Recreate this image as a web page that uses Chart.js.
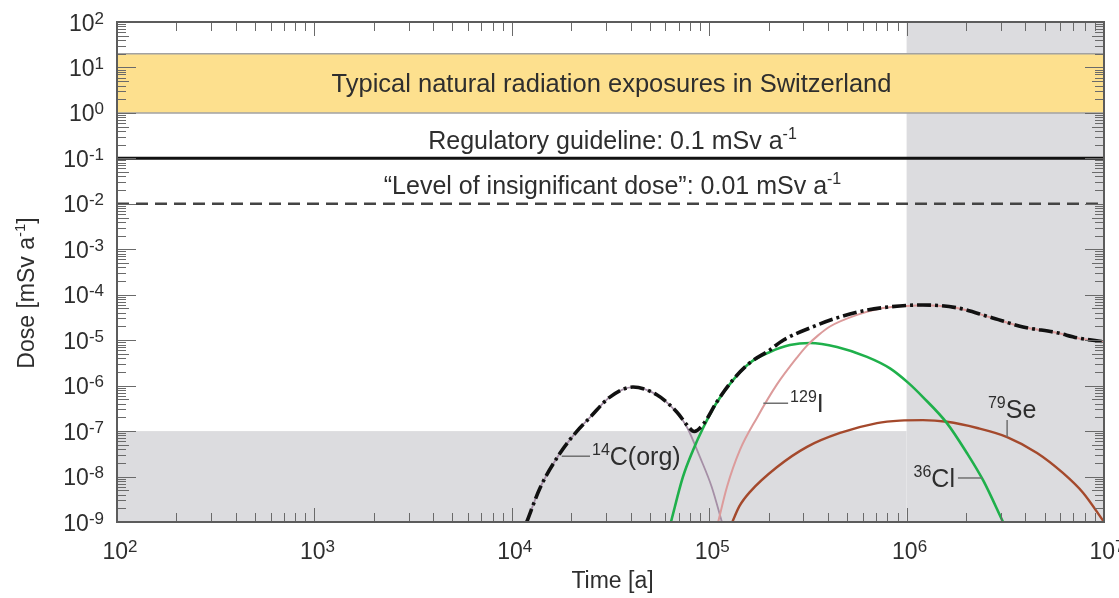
<!DOCTYPE html>
<html>
<head>
<meta charset="utf-8">
<script src="https://cdn.jsdelivr.net/npm/chart.js@4/dist/chart.umd.min.js"></script>
<style>html,body{margin:0;padding:0;background:#fff;}</style>
</head>
<body>
<canvas id="c" width="1119" height="598"></canvas>
<script>
// ---------- data ----------
const xTickExponents = [2, 3, 4, 5, 6, 7];
const yTickExponents = [2, 1, 0, -1, -2, -3, -4, -5, -6, -7, -8, -9];

const c14Time = [1.19e4, 1.39e4, 1.75e4, 2.14e4, 2.49e4, 3.14e4, 4.11e4, 5.45e4, 6.87e4, 7.73e4, 8.97e4, 1.03e5, 1.16e5];
const c14Dose = [1e-9, 5.6e-9, 3.2e-8, 1.0e-7, 2.0e-7, 5.6e-7, 9.3e-7, 6.2e-7, 2.5e-7, 1.2e-7, 2.7e-8, 5.9e-9, 1e-9];

const cl36Time = [6.4e4, 7.36e4, 8.28e4, 9.31e4, 1.09e5, 1.32e5, 1.61e5, 2.03e5, 2.56e5, 3.24e5, 4.44e5, 6.3e5, 8.24e5, 1.02e6, 1.21e6, 1.6e6, 2.02e6, 2.44e6, 3.08e6];
const cl36Dose = [1e-9, 9.8e-9, 3.8e-8, 1.17e-7, 4.2e-7, 1.32e-6, 3.2e-6, 5.5e-6, 7.8e-6, 8.7e-6, 7.1e-6, 4.3e-6, 2.4e-6, 1.15e-6, 5.6e-7, 1.5e-7, 3.3e-8, 8.3e-9, 1e-9];

const i129Time = [1.11e5, 1.23e5, 1.43e5, 1.75e5, 2.2e5, 2.79e5, 3.13e5, 3.55e5, 4.09e5, 5.61e5, 7.59e5, 1.04e6, 1.21e6, 1.8e6, 2.64e6, 3.89e6, 5.78e6, 7.3e6, 1e7];
const i129Dose = [1e-9, 5.9e-9, 3.8e-8, 2.0e-7, 1.05e-6, 4.2e-6, 7.6e-6, 1.26e-5, 2.0e-5, 3.6e-5, 5.1e-5, 5.75e-5, 5.9e-5, 5.1e-5, 3.2e-5, 1.95e-5, 1.45e-5, 1.12e-5, 9.1e-6];

const se79Time = [1.31e5, 1.42e5, 1.61e5, 2.2e5, 3.13e5, 4.6e5, 7.08e5, 9.25e5, 1.21e6, 1.6e6, 2.28e6, 3.23e6, 4.58e6, 6.19e6, 7.83e6, 1e7];
const se79Dose = [1e-9, 2.2e-9, 4.6e-9, 1.6e-8, 4.5e-8, 9.1e-8, 1.5e-7, 1.7e-7, 1.74e-7, 1.6e-7, 1.17e-7, 7.4e-8, 3.3e-8, 1.2e-8, 4.4e-9, 1e-9];

const totalTime = [1.19e4, 1.39e4, 1.75e4, 2.14e4, 2.49e4, 3.14e4, 4.11e4, 5.45e4, 6.87e4, 7.73e4, 8.4e4, 9.31e4, 1.09e5, 1.32e5, 1.61e5, 2.03e5, 2.37e5, 3.24e5, 4.44e5, 6.3e5, 9.2e5, 1.21e6, 1.8e6, 2.64e6, 3.89e6, 5.78e6, 7.3e6, 1e7];
const totalDose = [1e-9, 5.6e-9, 3.2e-8, 1.0e-7, 2.0e-7, 5.6e-7, 9.3e-7, 6.2e-7, 2.6e-7, 1.35e-7, 9.8e-8, 1.4e-7, 4.3e-7, 1.35e-6, 3.2e-6, 6.1e-6, 1.0e-5, 1.86e-5, 3.1e-5, 4.6e-5, 5.65e-5, 5.95e-5, 5.15e-5, 3.22e-5, 1.96e-5, 1.46e-5, 1.13e-5, 9.2e-6];

const timeRange = [1e2, 1e7];
const doseRange = [1e-9, 1e2];
const guidelineDose = 0.1;
const insignificantDose = 0.01;
const naturalBand = [1, 20];
const shadedAfterTime = 1e6;
const shadedBelowDose = 1e-7;

const labels = {
  band: 'Typical natural radiation exposures in Switzerland',
  guideline: [['Regulatory guideline: 0.1 mSv a', false], ['-1', true]],
  insignificant: [['\u201CLevel of insignificant dose\u201D: 0.01 mSv a', false], ['-1', true]],
  xTitle: 'Time [a]',
  yTitle: [['Dose [mSv a', false], ['-1', true], [']', false]]
};

// nuclide annotations: leader line in data coordinates
const nuclideNotes = [
  { parts: [['14', true], ['C(org)', false]], from: [1.79e4, 2.8e-8], to: [2.49e4, 2.8e-8], side: 'right' },
  { parts: [['129', true], ['I', false]], from: [1.88e5, 4.1e-7], to: [2.51e5, 4.1e-7], side: 'right' },
  { parts: [['79', true], ['Se', false]], from: [3.23e6, 7.4e-8], to: [3.23e6, 1.75e-7], side: 'above' },
  { parts: [['36', true], ['Cl', false]], from: [2.41e6, 9.3e-9], to: [1.82e6, 9.3e-9], side: 'left' }
];

// ---------- helpers ----------
const FONT = '"Liberation Sans", Arial, Helvetica, sans-serif';
const pts = (xs, ys) => xs.map((x, i) => ({ x: x, y: ys[i] }));

function richWidth(ctx, parts, size, supSize) {
  let w = 0;
  for (const [t, sup] of parts) {
    ctx.font = `${sup ? supSize : size}px ${FONT}`;
    w += ctx.measureText(t).width;
  }
  return w;
}
function drawRich(ctx, parts, x, y, align, size, supSize, rise) {
  const w = richWidth(ctx, parts, size, supSize);
  let cx = align === 'center' ? x - w / 2 : align === 'right' ? x - w : x;
  ctx.textAlign = 'left';
  ctx.textBaseline = 'alphabetic';
  for (const [t, sup] of parts) {
    ctx.font = `${sup ? supSize : size}px ${FONT}`;
    ctx.fillText(t, cx, sup ? y - rise : y);
    cx += ctx.measureText(t).width;
  }
}

const backgroundPlugin = {
  id: 'background',
  beforeDatasetsDraw(chart) {
    const { ctx, chartArea: a, scales: { x, y } } = chart;
    ctx.save();
    ctx.fillStyle = '#dcdcdf';
    const xs = x.getPixelForValue(shadedAfterTime);
    ctx.fillRect(xs, a.top, a.right - xs, a.bottom - a.top);
    const ys = y.getPixelForValue(shadedBelowDose);
    ctx.fillRect(a.left, ys, xs - a.left, a.bottom - ys);
    // natural exposure band
    const yb0 = y.getPixelForValue(naturalBand[0]);
    const yb1 = y.getPixelForValue(naturalBand[1]);
    ctx.fillStyle = '#fde08e';
    ctx.fillRect(a.left, yb1, a.right - a.left, yb0 - yb1);
    ctx.strokeStyle = '#a2a2a2';
    ctx.lineWidth = 1.5;
    ctx.beginPath();
    ctx.moveTo(a.left, yb1); ctx.lineTo(a.right, yb1);
    ctx.moveTo(a.left, yb0); ctx.lineTo(a.right, yb0);
    ctx.stroke();
    ctx.restore();
  },
  afterDatasetsDraw(chart) {
    const { ctx, chartArea: a, scales: { x, y } } = chart;
    ctx.save();
    // ticks (inward, all four sides)
    ctx.strokeStyle = '#6a6a6a';
    ctx.lineWidth = 1;
    ctx.beginPath();
    for (let e = Math.log10(timeRange[0]); e < Math.log10(timeRange[1]); e++) {
      for (let m = 1; m <= 9; m++) {
        const px = Math.round(x.getPixelForValue(m * Math.pow(10, e))) + 0.5;
        const len = m === 1 ? 14 : 9;
        ctx.moveTo(px, a.bottom); ctx.lineTo(px, a.bottom - len);
        ctx.moveTo(px, a.top); ctx.lineTo(px, a.top + len);
      }
    }
    for (let e = Math.log10(doseRange[0]); e < Math.log10(doseRange[1]); e++) {
      for (let m = 1; m <= 9; m++) {
        const py = Math.round(y.getPixelForValue(m * Math.pow(10, e))) + 0.5;
        const len = m === 1 ? 19 : (m === 5 ? 12 : 9);
        ctx.moveTo(a.left, py); ctx.lineTo(a.left + len, py);
        ctx.moveTo(a.right, py); ctx.lineTo(a.right - len, py);
      }
    }
    ctx.stroke();
    // frame
    ctx.strokeStyle = '#5c5c5c';
    ctx.lineWidth = 2;
    ctx.strokeRect(a.left, a.top, a.right - a.left, a.bottom - a.top);

    // text in plot
    ctx.fillStyle = '#2e2e2e';
    const cx = (a.left + a.right) / 2;
    const yb0 = y.getPixelForValue(naturalBand[0]);
    const yb1 = y.getPixelForValue(naturalBand[1]);
    ctx.font = `25.5px ${FONT}`;
    ctx.textAlign = 'center';
    ctx.textBaseline = 'alphabetic';
    ctx.fillText(labels.band, cx + 1, (yb0 + yb1) / 2 + 9);
    drawRich(ctx, labels.guideline, cx + 2, y.getPixelForValue(guidelineDose) - 9, 'center', 25, 16, 10);
    drawRich(ctx, labels.insignificant, cx + 2, y.getPixelForValue(insignificantDose) - 9.5, 'center', 25, 16, 10);

    // nuclide notes
    for (const n of nuclideNotes) {
      const x0 = x.getPixelForValue(n.from[0]), y0 = y.getPixelForValue(n.from[1]);
      const x1 = x.getPixelForValue(n.to[0]), y1 = y.getPixelForValue(n.to[1]);
      ctx.strokeStyle = '#707070';
      ctx.lineWidth = 1.5;
      ctx.beginPath(); ctx.moveTo(x0, y0); ctx.lineTo(x1, y1); ctx.stroke();
      ctx.fillStyle = '#2e2e2e';
      if (n.side === 'right') drawRich(ctx, n.parts, x1 + 2, y1 + 8.5, 'left', 25, 16, 10);
      else if (n.side === 'left') drawRich(ctx, n.parts, x1 - 3, y1 + 9, 'right', 25, 16, 10);
      else drawRich(ctx, n.parts, x1 + 5, y1 - 2, 'center', 25, 16, 10);
    }
    ctx.restore();
  },
  afterDraw(chart) {
    const { ctx, chartArea: a, scales: { x, y } } = chart;
    ctx.save();
    ctx.fillStyle = '#2e2e2e';
    for (const e of yTickExponents) {
      const py = y.getPixelForValue(Math.pow(10, e));
      drawRich(ctx, [['10', false], [String(e), true]], a.left - 13, py + 8.5, 'right', 23, 17, 7);
    }
    for (const e of xTickExponents) {
      const px = x.getPixelForValue(Math.pow(10, e));
      drawRich(ctx, [['10', false], [String(e), true]], px + 3, a.bottom + 37, 'center', 23, 17, 7);
    }
    ctx.font = `23px ${FONT}`;
    ctx.textAlign = 'center';
    ctx.textBaseline = 'alphabetic';
    ctx.fillText(labels.xTitle, (a.left + a.right) / 2 + 2, a.bottom + 66);
    ctx.translate(34, 293);
    ctx.rotate(-Math.PI / 2);
    drawRich(ctx, labels.yTitle, 0, 0, 'center', 23, 15, 9);
    ctx.restore();
  }
};

const lineBase = { pointRadius: 0, pointHoverRadius: 0, fill: false, cubicInterpolationMode: 'monotone' };

new Chart(document.getElementById('c'), {
  type: 'line',
  data: {
    datasets: [
      Object.assign({ label: 'Total', data: pts(totalTime, totalDose), borderColor: '#111', borderWidth: 3.6, borderDash: [14, 4, 3, 4] }, lineBase),
      Object.assign({ label: 'Regulatory guideline', data: pts(timeRange, [guidelineDose, guidelineDose]), borderColor: '#111', borderWidth: 3, tension: 0 }, lineBase),
      Object.assign({ label: 'Level of insignificant dose', data: pts(timeRange, [insignificantDose, insignificantDose]), borderColor: '#444', borderWidth: 2.5, borderDash: [12, 7], tension: 0 }, lineBase),
      Object.assign({ label: '129I', data: pts(i129Time, i129Dose), borderColor: '#dc9b9b', borderWidth: 2 }, lineBase),
      Object.assign({ label: '36Cl', data: pts(cl36Time, cl36Dose), borderColor: '#1fb04b', borderWidth: 2.6 }, lineBase),
      Object.assign({ label: '79Se', data: pts(se79Time, se79Dose), borderColor: '#a4492c', borderWidth: 2.4 }, lineBase),
      Object.assign({ label: '14C(org)', data: pts(c14Time, c14Dose), borderColor: '#a58fa6', borderWidth: 1.8 }, lineBase)
    ]
  },
  options: {
    responsive: false,
    animation: false,
    devicePixelRatio: 1,
    layout: { padding: { left: 117, right: 15, top: 22, bottom: 76 } },
    plugins: { legend: { display: false }, tooltip: { enabled: false }, title: { display: false } },
    scales: {
      x: { type: 'logarithmic', min: timeRange[0], max: timeRange[1], display: false },
      y: { type: 'logarithmic', min: doseRange[0], max: doseRange[1], display: false }
    }
  },
  plugins: [backgroundPlugin]
});
</script>
</body>
</html>
